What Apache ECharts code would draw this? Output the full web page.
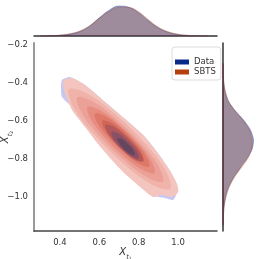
<!DOCTYPE html>
<html><head><meta charset="utf-8">
<script src="https://cdn.jsdelivr.net/npm/echarts@6/dist/echarts.min.js"></script>
<style>html,body{margin:0;padding:0;background:#fff}#c{width:259px;height:259px}</style>
</head><body><div id="c"></div>
<script>
// ---- data ----
const xTicks = [0.4, 0.6, 0.8, 1.0];
const yTicks = [-1.0, -0.8, -0.6, -0.4, -0.2];
const seriesNames = ['Data', 'SBTS'];

// marginal KDE of X_t1
const xGrid = [0.30,0.35,0.40,0.45,0.50,0.55,0.60,0.65,0.70,0.75,0.80,0.85,0.90,0.95,1.00,1.05,1.10,1.15];
const dataXDens = [0.00,0.02,0.07,0.19,0.44,0.98,1.82,2.58,3.00,2.88,2.33,1.52,0.82,0.38,0.16,0.05,0.01,0.00];
const sbtsXDens = [0.01,0.03,0.09,0.23,0.50,1.02,1.78,2.45,2.86,2.85,2.42,1.62,0.88,0.42,0.18,0.07,0.02,0.00];

// marginal KDE of X_t2
const yGrid = [-0.30,-0.35,-0.40,-0.45,-0.50,-0.55,-0.60,-0.65,-0.70,-0.75,-0.80,-0.85,-0.90,-0.95,-1.00,-1.05,-1.10,-1.15];
const dataYDens = [0.00,0.02,0.07,0.22,0.55,1.25,2.10,2.75,3.05,2.92,2.40,1.70,1.05,0.55,0.27,0.11,0.04,0.01];
const sbtsYDens = [0.00,0.03,0.09,0.25,0.57,1.20,2.00,2.62,2.90,2.86,2.47,1.80,1.12,0.62,0.30,0.12,0.04,0.01];

// joint KDE contours (outer -> inner), [x, y]
const dataContours = [
  [[0.4102,-0.3874],[0.4509,-0.3716],[0.5272,-0.4136],[0.6290,-0.5028],[0.7308,-0.5921],[0.8224,-0.6761],[0.8936,-0.7653],[0.9598,-0.8650],[0.9903,-0.9280],[0.9954,-0.9753],[0.9750,-1.0173],[0.9344,-1.0068],[0.8835,-0.9962],[0.8071,-0.9385],[0.7257,-0.8598],[0.6596,-0.7863],[0.5985,-0.7128],[0.5323,-0.6236],[0.4662,-0.5343],[0.4102,-0.4766],[0.4051,-0.4294]]
];
const sbtsContours = [
  [[0.4204,-0.3874],[0.4611,-0.3769],[0.5272,-0.4136],[0.6290,-0.5028],[0.7308,-0.5921],[0.8224,-0.6761],[0.8936,-0.7653],[0.9598,-0.8650],[0.9954,-0.9333],[1.0005,-0.9753],[0.9700,-1.0015],[0.9191,-0.9910],[0.8733,-1.0015],[0.8071,-0.9490],[0.7206,-0.8703],[0.6545,-0.7968],[0.5934,-0.7233],[0.5272,-0.6341],[0.4611,-0.5448],[0.4305,-0.4714],[0.4153,-0.4189]],
  [[0.4452,-0.4358],[0.5429,-0.4608],[0.6783,-0.5634],[0.8329,-0.7202],[0.9345,-0.8580],[0.9604,-0.9584],[0.8627,-0.9334],[0.7273,-0.8308],[0.5727,-0.6740],[0.4711,-0.5362]],
  [[0.4877,-0.4789],[0.5689,-0.5015],[0.6826,-0.5889],[0.8132,-0.7213],[0.8999,-0.8371],[0.9231,-0.9205],[0.8419,-0.8979],[0.7282,-0.8105],[0.5976,-0.6781],[0.5109,-0.5623]],
  [[0.5399,-0.5293],[0.6040,-0.5465],[0.6933,-0.6147],[0.7957,-0.7185],[0.8632,-0.8095],[0.8809,-0.8753],[0.8168,-0.8581],[0.7275,-0.7899],[0.6251,-0.6861],[0.5576,-0.5951]],
  [[0.5776,-0.5625],[0.6297,-0.5761],[0.7020,-0.6311],[0.7848,-0.7149],[0.8393,-0.7885],[0.8534,-0.8421],[0.8013,-0.8285],[0.7290,-0.7735],[0.6462,-0.6897],[0.5917,-0.6161]],
  [[0.6154,-0.6009],[0.6557,-0.6107],[0.7111,-0.6524],[0.7743,-0.7164],[0.8157,-0.7729],[0.8258,-0.8143],[0.7855,-0.8045],[0.7301,-0.7628],[0.6669,-0.6988],[0.6255,-0.6423]],
  [[0.6314,-0.6224],[0.6684,-0.6303],[0.7185,-0.6673],[0.7751,-0.7247],[0.8118,-0.7757],[0.8200,-0.8138],[0.7830,-0.8059],[0.7329,-0.7689],[0.6763,-0.7115],[0.6396,-0.6605]],
  [[0.6619,-0.6587],[0.6895,-0.6638],[0.7264,-0.6904],[0.7678,-0.7324],[0.7943,-0.7700],[0.7997,-0.7985],[0.7721,-0.7934],[0.7352,-0.7668],[0.6938,-0.7248],[0.6673,-0.6872]],
  [[0.6924,-0.6922],[0.7102,-0.6950],[0.7337,-0.7117],[0.7599,-0.7383],[0.7764,-0.7622],[0.7794,-0.7806],[0.7616,-0.7778],[0.7381,-0.7611],[0.7119,-0.7345],[0.6954,-0.7106]]
];

// ---- styles ----
const dataColor = '#0a2a8a', sbtsColor = '#b5400f';
const dataFills = ['#c4c8f2'];
const sbtsFills = ['#f3c5be','#efb3aa','#eba198','#e68d80','#de7869','#cf6658','#b2585a','#8a5066','#66465f'];
const FONT = 'DejaVu Sans';
const fmt = v => (v < 0 ? '\u2212' : '') + Math.abs(v).toFixed(1);
const nameRich = {
  x: {fontSize: 10, fontStyle: 'italic', fontFamily: FONT, color: '#333', lineHeight: 14, verticalAlign: 'top'},
  t: {fontSize: 6.5, fontStyle: 'italic', fontFamily: FONT, color: '#333', lineHeight: 14, verticalAlign: 'bottom'},
  n: {fontSize: 4.5, fontFamily: FONT, color: '#333', lineHeight: 12, verticalAlign: 'bottom'}
};

function contourSeries(name, polys, fills, color, smoothOuter) {
  return {
    type: 'custom', name: name, xAxisIndex: 0, yAxisIndex: 0,
    itemStyle: {color: color},
    data: polys.map(p => p[0]),
    renderItem: function (params, api) {
      const poly = polys[params.dataIndex];
      return {
        type: 'polygon',
        shape: {points: poly.map(p => api.coord(p)), smooth: params.dataIndex === 0 ? smoothOuter : 0.35},
        style: {fill: fills[params.dataIndex]}
      };
    }
  };
}
function rightMarg(name, dens, fill, stroke, color) {
  return {
    type: 'custom', name: name, xAxisIndex: 2, yAxisIndex: 2,
    itemStyle: {color: color},
    data: [[0, yGrid[0]]],
    renderItem: function (params, api) {
      const pts = [api.coord([0, yGrid[0]])];
      yGrid.forEach((y, i) => pts.push(api.coord([dens[i], y])));
      pts.push(api.coord([0, yGrid[yGrid.length - 1]]));
      return {type: 'polygon', shape: {points: pts, smooth: 0.25},
        style: {fill: fill, stroke: stroke, lineWidth: 1}};
    }
  };
}
function topMarg(name, dens, fill, stroke, color) {
  return {
    type: 'line', name: name, xAxisIndex: 1, yAxisIndex: 1,
    data: xGrid.map((x, i) => [x, dens[i]]),
    smooth: 0.4, symbol: 'none', itemStyle: {color: color},
    lineStyle: {color: stroke, width: 1},
    areaStyle: {color: fill, opacity: 1}
  };
}

const chart = echarts.init(document.getElementById('c'), null, {renderer: 'canvas'});
chart.setOption({
  animation: false,
  backgroundColor: '#fff',
  grid: [
    {left: 34, top: 43, width: 183, height: 188, outerBoundsMode: 'none', containLabel: false},
    {left: 34, top: 4, width: 183, height: 32, outerBoundsMode: 'none', containLabel: false},
    {left: 223, top: 43, width: 32, height: 188, outerBoundsMode: 'none', containLabel: false}
  ],
  xAxis: [
    {type: 'value', gridIndex: 0, min: 0.268, max: 1.198,
     axisLine: {show: true, lineStyle: {color: '#444', width: 1.5}},
     axisTick: {show: false}, splitLine: {show: false},
     axisLabel: {customValues: xTicks, formatter: fmt, color: '#333', fontSize: 8.5, fontFamily: FONT, margin: 7},
     name: '{x|X}{t|t}{n|1}', nameLocation: 'middle', nameGap: 16, nameMoveOverlap: false,
     nameTextStyle: {rich: nameRich}},
    {type: 'value', gridIndex: 1, min: 0.268, max: 1.198,
     axisLine: {show: true, onZero: false, lineStyle: {color: '#333', width: 1.5}},
     axisTick: {show: false}, axisLabel: {show: false}, splitLine: {show: false}},
    {type: 'value', gridIndex: 2, min: 0, max: 3.2, show: false}
  ],
  yAxis: [
    {type: 'value', gridIndex: 0, min: -1.18, max: -0.193,
     axisLine: {show: true, lineStyle: {color: '#9a9a9a', width: 2}},
     axisTick: {show: false}, splitLine: {show: false},
     axisLabel: {customValues: yTicks, formatter: fmt, color: '#333', fontSize: 8.5, fontFamily: FONT, margin: 6},
     name: '{x|X}{t|t}{n|2}', nameLocation: 'middle', nameGap: 20, nameRotate: 90, nameMoveOverlap: false,
     nameTextStyle: {rich: nameRich}},
    {type: 'value', gridIndex: 1, min: 0, max: 3.2, show: false},
    {type: 'value', gridIndex: 2, min: -1.18, max: -0.193,
     axisLine: {show: true, lineStyle: {color: '#333', width: 1.5}},
     axisTick: {show: false}, axisLabel: {show: false}, splitLine: {show: false}}
  ],
  legend: {
    left: 172, top: 47, orient: 'vertical', icon: 'rect',
    itemWidth: 14, itemHeight: 5, itemGap: 0,
    padding: [10, 5, 3, 3],
    backgroundColor: '#fff', borderColor: '#ddd', borderWidth: 1, borderRadius: 3,
    textStyle: {fontSize: 8.5, fontFamily: FONT, color: '#333', lineHeight: 10},
    data: [{name: 'Data', itemStyle: {color: dataColor}}, {name: 'SBTS', itemStyle: {color: sbtsColor}}]
  },
  series: [
    contourSeries(seriesNames[0], dataContours, dataFills, dataColor, 0.2),
    contourSeries(seriesNames[1], sbtsContours, sbtsFills, sbtsColor, 0.2),
    topMarg(seriesNames[0], dataXDens, 'rgba(0,28,127,0.4)', 'rgba(0,28,127,0.3)', dataColor),
    topMarg(seriesNames[1], sbtsXDens, 'rgba(177,64,13,0.25)', 'rgba(177,64,13,0.3)', sbtsColor),
    rightMarg(seriesNames[0], dataYDens, 'rgba(0,28,127,0.4)', 'rgba(0,28,127,0.3)', dataColor),
    rightMarg(seriesNames[1], sbtsYDens, 'rgba(177,64,13,0.25)', 'rgba(177,64,13,0.3)', sbtsColor)
  ]
});
</script></body></html>
